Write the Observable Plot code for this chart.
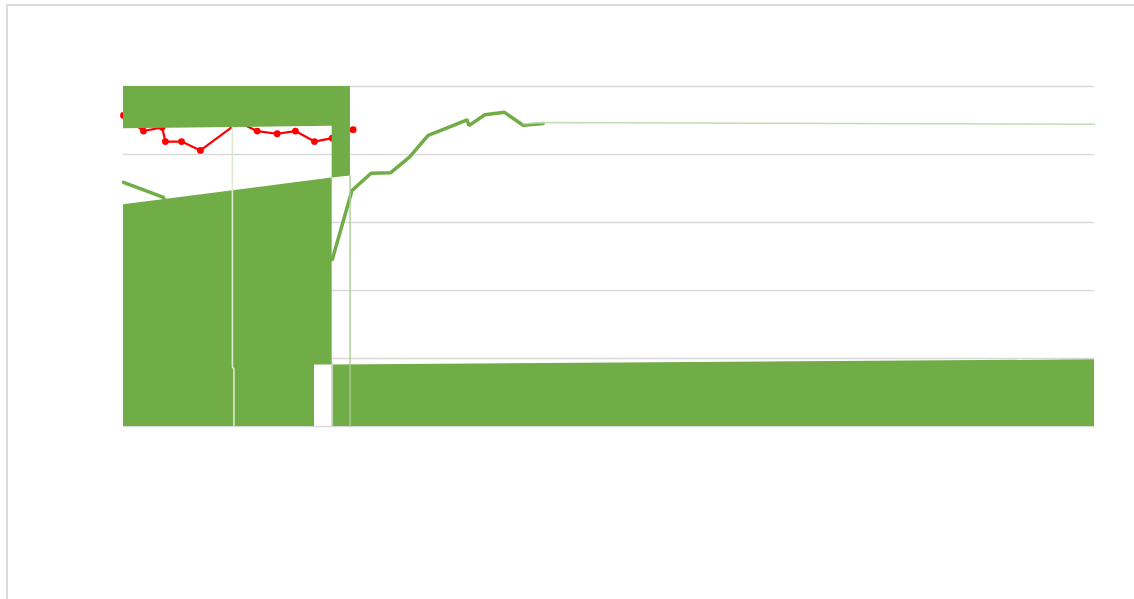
<!DOCTYPE html>
<html>
<head>
<meta charset="utf-8">
<script src="https://cdn.jsdelivr.net/npm/d3@7"></script>
<script src="https://cdn.jsdelivr.net/npm/@observablehq/plot@0.6"></script>
<style>
  html, body { margin: 0; padding: 0; background: #ffffff; }
  #wrap { position: relative; width: 1134px; height: 599px; overflow: hidden; font-family: "Liberation Sans", Arial, sans-serif; }
  #frame { position: absolute; left: 6px; top: 4px; right: -4px; bottom: -4px; border-left: 2px solid #dcdcdc; border-top: 2px solid #dcdcdc; }
  #chart { position: absolute; left: 0; top: 0; }
</style>
</head>
<body>
<div id="wrap"><div id="frame"></div><div id="chart"></div></div>
<script>
// ---- data (x in category steps, y in percent of the value axis) ----
const gridValues = [0, 20, 40, 60, 80, 100];

// red series (line with markers)
const redX = [0, 1.05, 2.03, 2.2, 3.05, 4.04, 6.05, 7.02, 8.07, 9.03, 10.03, 10.96, 12.06];
const redY = [91.5, 86.9, 88.0, 83.8, 83.8, 81.2, 89.5, 86.9, 86.1, 86.9, 83.8, 84.8, 87.3];

// green series (thick line)
const greenX = [0, 2.1, 2.15, 5, 8, 10.96, 12.0, 13.0, 14.02, 15.02, 16.0, 17.0, 18.05, 18.14, 18.98, 20.01, 20.99, 22.04];
const greenY = [71.8, 67.4, 66.6, 60, 54, 49.0, 69.4, 74.5, 74.6, 79.2, 85.6, 87.8, 90.2, 88.5, 91.7, 92.4, 88.6, 89.1];

// green series continuation (thin pale line)
const tailX = [20.99, 22.04, 51];
const tailY = [89.0, 89.4, 88.9];

// upper filled band
const bandTopX  = [0, 10.96, 10.96, 11.92];
const bandTopLo = [87.6, 88.3, 73.1, 73.7];
const bandTopHi = [100, 100, 100, 100];

// lower filled area
const areaX  = [0, 10.03, 10.03, 10.96, 10.96, 51];
const areaLo = [0, 0, 18.1, 18.1, 0, 0];
const areaHi = [65.2, 72.4, 72.4, 73.1, 18.1, 19.6];

// thin vertical drop lines
const drop1X = [5.72, 5.72, 5.8, 5.8];
const drop1Y = [88.0, 17.5, 17.0, 0];
const drop2X = [11.9, 11.9];
const drop2Y = [73.7, 0];
const drop3X = [10.97, 10.97];
const drop3Y = [19.0, 0];

const GREEN = "#70AD47";
const idx = a => d3.range(a.length);

const chart = Plot.plot({
  width: 1134,
  height: 599,
  marginLeft: 123,
  marginRight: 40,
  marginTop: 86,
  marginBottom: 173,
  style: { background: "transparent" },
  x: { domain: [0, 51], axis: null },
  y: { domain: [0, 100], axis: null },
  marks: [
    Plot.ruleY(gridValues, { stroke: "#d9d9d9", strokeWidth: 1.5 }),
    Plot.line(idx(redX), { x: i => redX[i], y: i => redY[i], stroke: "#ff0000", strokeWidth: 2.2, curve: "linear" }),
    Plot.dot(idx(redX), { x: i => redX[i], y: i => redY[i], r: 3.4, fill: "#ff0000", stroke: "none" }),
    Plot.line(idx(greenX), { x: i => greenX[i], y: i => greenY[i], stroke: GREEN, strokeWidth: 3.5, curve: "linear", strokeLinejoin: "miter" }),
    Plot.line(idx(tailX), { x: i => tailX[i], y: i => tailY[i], stroke: "#c3dcb1", strokeWidth: 1.4, curve: "linear" }),
    Plot.areaY(idx(bandTopX), { x: i => bandTopX[i], y1: i => bandTopLo[i], y2: i => bandTopHi[i], fill: GREEN, curve: "linear" }),
    Plot.areaY(idx(areaX), { x: i => areaX[i], y1: i => areaLo[i], y2: i => areaHi[i], fill: GREEN, curve: "linear" }),
    Plot.line(idx(drop1X), { x: i => drop1X[i], y: i => drop1Y[i], stroke: "#dde9d3", strokeWidth: 1.6, curve: "linear" }),
    Plot.line(idx(drop2X), { x: i => drop2X[i], y: i => drop2Y[i], stroke: "#a9cd90", strokeWidth: 1.4, curve: "linear" }),
    Plot.line(idx(drop3X), { x: i => drop3X[i], y: i => drop3Y[i], stroke: "#cfd8c8", strokeWidth: 1, curve: "linear" })
  ]
});
document.getElementById("chart").appendChild(chart);
</script>
</body>
</html>
